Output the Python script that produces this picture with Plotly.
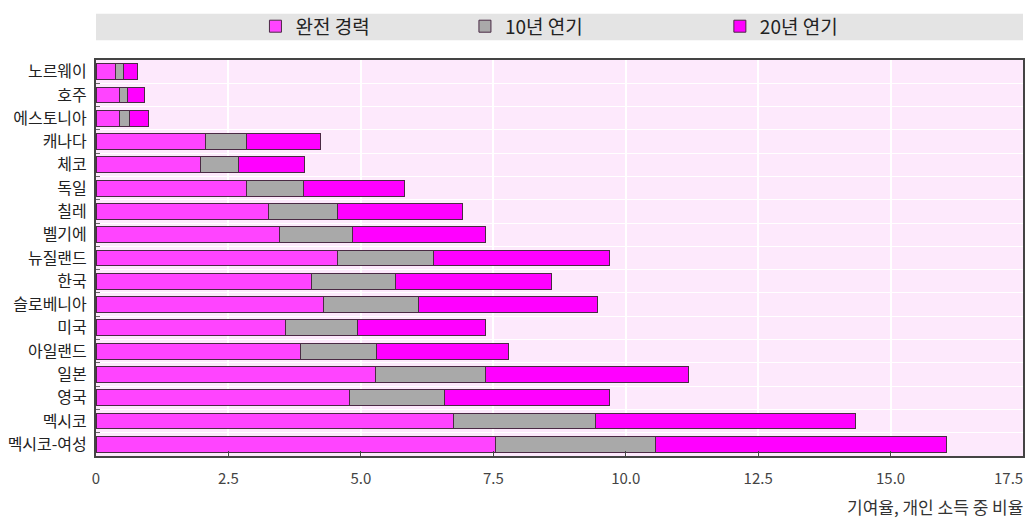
import plotly.graph_objects as go

countries = ["노르웨이", "호주", "에스토니아", "캐나다", "체코", "독일", "칠레", "벨기에",
             "뉴질랜드", "한국", "슬로베니아", "미국", "아일랜드", "일본", "영국", "멕시코", "멕시코-여성"]
full_career = [0.37, 0.44, 0.44, 2.06, 1.97, 2.84, 3.26, 3.47, 4.56, 4.06, 4.29, 3.58, 3.86, 5.27, 4.78, 6.75, 7.54]
delay_10 = [0.15, 0.16, 0.19, 0.78, 0.72, 1.07, 1.29, 1.37, 1.82, 1.60, 1.79, 1.36, 1.43, 2.08, 1.79, 2.68, 3.02]
delay_20 = [0.26, 0.31, 0.36, 1.39, 1.25, 1.92, 2.36, 2.52, 3.32, 2.94, 3.38, 2.41, 2.50, 3.83, 3.12, 4.91, 5.50]
series_names = ["완전 경력", "10년 연기", "20년 연기"]
x_tick_vals = [0, 2.5, 5.0, 7.5, 10.0, 12.5, 15.0, 17.5]
x_tick_text = ["0", "2.5", "5.0", "7.5", "10.0", "12.5", "15.0", "17.5"]
x_title = "기여율, 개인 소득 중 비율"

FONT = "Noto Sans CJK KR"
colors = ["#ff44ff", "#a9a9a9", "#ff00ff"]
legend_ids = ["legend", "legend2", "legend3"]

fig = go.Figure()
for vals, name, col, lg in zip([full_career, delay_10, delay_20], series_names, colors, legend_ids):
    fig.add_trace(go.Bar(
        y=countries, x=vals, name=name, orientation="h",
        marker=dict(color=col, line=dict(color="#4a2a44", width=1)),
        legend=lg, showlegend=True,
    ))

leg_common = dict(orientation="h", yanchor="middle", y=1.085, xanchor="left",
                  bgcolor="rgba(0,0,0,0)", borderwidth=0, visible=True,
                  font=dict(family=FONT, size=19, color="#222"))

# last tick label is drawn right-aligned to the axis end so it stays inside the page
shown_ticktext = x_tick_text[:-1] + [""]
tick_font = dict(family=FONT, size=15, color="#444")

fig.update_layout(
    width=1030, height=521,
    margin=dict(l=96, r=7, t=55, b=65),
    barmode="stack", bargap=0.32,
    showlegend=True,
    paper_bgcolor="white", plot_bgcolor="#fde9fc",
    font=dict(family=FONT, size=14, color="#333"),
    legend=dict(x=0.172, **leg_common),
    legend2=dict(x=0.398, **leg_common),
    legend3=dict(x=0.673, **leg_common),
    xaxis=dict(range=[0, 17.5], tickvals=x_tick_vals, ticktext=shown_ticktext,
               showgrid=True, gridcolor="white", gridwidth=1.5,
               ticks="inside", ticklen=5, tickcolor="#444",
               showline=True, linecolor="#444", linewidth=2, mirror=True,
               zeroline=False, tickfont=tick_font, ticklabelstandoff=8,
               automargin=False),
    yaxis=dict(categoryorder="array", categoryarray=countries, autorange="reversed",
               tickson="boundaries", ticks="inside", ticklen=4, tickcolor="#666",
               showgrid=True, gridcolor="white", gridwidth=1,
               showline=True, linecolor="#444", linewidth=2, mirror=True,
               tickfont=dict(size=16, color="#222"), ticklabelstandoff=4, automargin=False),
    shapes=[dict(type="rect", xref="paper", yref="paper", x0=0, x1=1, y0=1.050, y1=1.117,
                 fillcolor="#e4e4e4", line=dict(width=0), layer="below")],
    annotations=[
        dict(text=x_title, xref="paper", yref="paper", x=1.002, y=-0.09,
             xanchor="right", yanchor="top", showarrow=False,
             font=dict(family=FONT, size=17, color="#333")),
        dict(text=x_tick_text[-1], xref="x", yref="paper", x=x_tick_vals[-1], y=-0.055,
             xanchor="right", yanchor="middle", showarrow=False, xshift=2, font=tick_font),
    ],
)

fig.write_html("out.html", config={"displayModeBar": False},
               post_script="document.body.style.margin='0';document.body.style.overflow='hidden';")
